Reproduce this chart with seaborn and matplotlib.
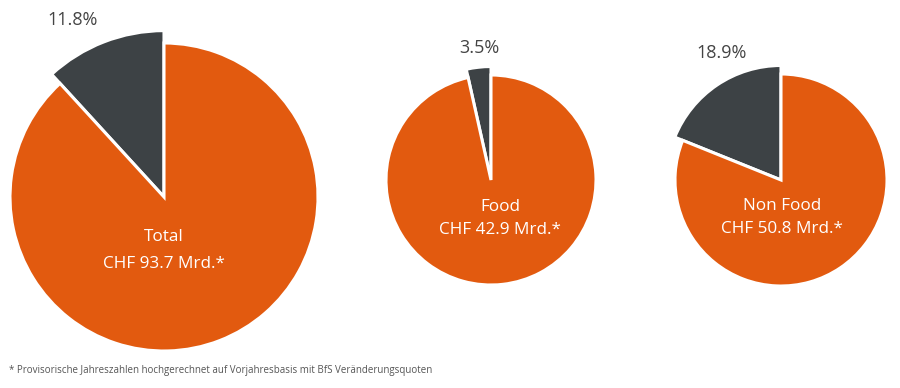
import matplotlib
matplotlib.use("Agg")
import matplotlib.pyplot as plt
import seaborn as sns

# ---- data ----
segments = ["Total", "Food", "Non Food"]
totals_bn = [93.7, 42.9, 50.8]
share_pct = [11.8, 3.5, 18.9]
footnote = "* Provisorische Jahreszahlen hochgerechnet auf Vorjahresbasis mit BfS Veränderungsquoten"

sns.set_theme(style="white")
plt.rcParams['font.family'] = ['Open Sans', 'DejaVu Sans']

ORANGE = "#E25A0F"
DARK = "#3D4245"
GREY = "#444444"

fig = plt.figure(figsize=(9, 3.88), dpi=100)
ax = fig.add_axes([0, 0, 1, 1])

# layout (pixel coordinates, y up)
centers = [(164, 191), (491, 208), (781, 208)]
radii = [154, 105, 106]
pct_pos = [(73, 368), (479, 340), (722, 335)]
label_dx = [0, 9, 1]
name_dy = [40, 27, 26]
val_dy = [67, 50, 49]

for i, seg in enumerate(segments):
    cx, cy = centers[i]
    r = radii[i]
    vals = [share_pct[i], 100 - share_pct[i]]
    wedges, _ = ax.pie(vals, colors=[DARK, ORANGE], startangle=90,
                       counterclock=True, radius=r, center=(cx, cy),
                       explode=[0.03, 0],
                       wedgeprops=dict(edgecolor="white", linewidth=2.2))
    wedges[0].set_radius(r * 1.08)
    ax.text(pct_pos[i][0], pct_pos[i][1], f"{share_pct[i]:.1f}%",
            ha="center", va="center", fontsize=13, color=GREY)
    ax.text(cx + label_dx[i], cy - name_dy[i], seg, ha="center", va="center",
            fontsize=12.3, color="white")
    ax.text(cx + label_dx[i], cy - val_dy[i], f"CHF {totals_bn[i]:.1f} Mrd.*",
            ha="center", va="center", fontsize=12.3, color="white")

ax.set_xlim(0, 900)
ax.set_ylim(0, 388)
ax.set_aspect("equal")
ax.axis("off")
ax.text(9, 18, footnote, ha="left", va="center", fontsize=7.0, color="#555555")

fig.savefig("out.png", dpi=100)
